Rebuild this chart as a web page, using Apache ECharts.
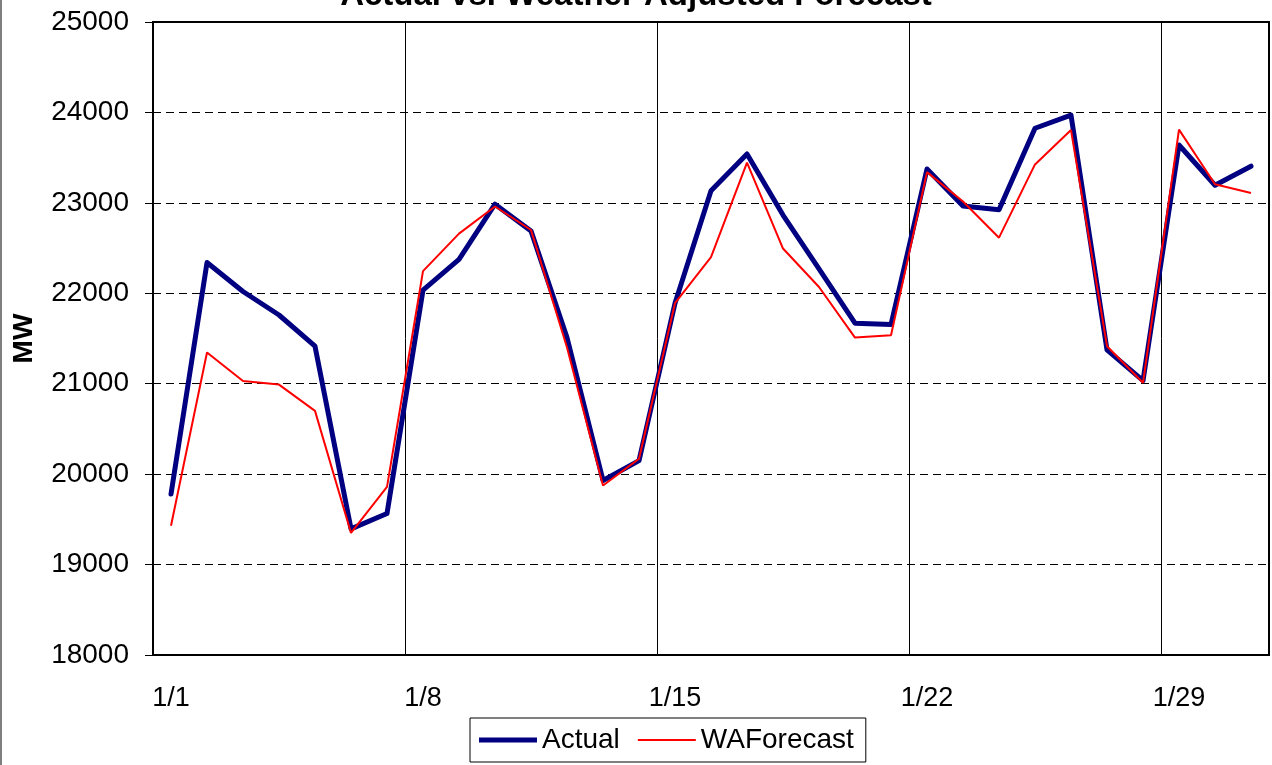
<!DOCTYPE html>
<html>
<head>
<meta charset="utf-8">
<title>Actual vs. Weather Adjusted Forecast</title>
<script src="https://cdn.jsdelivr.net/npm/echarts@6/dist/echarts.min.js"></script>
<style>
  html, body { margin: 0; padding: 0; background: #fff; }
  #chart { width: 1272px; height: 765px; }
  #edge { position: absolute; left: 0; top: 0; width: 2px; height: 765px; background: #7f7f7f; }
</style>
</head>
<body>
<div id="chart"></div>
<div id="edge"></div>
<script>
// days of January, one category per day
const days = ['1/1', '1/2', '1/3', '1/4', '1/5', '1/6', '1/7', '1/8', '1/9', '1/10',
  '1/11', '1/12', '1/13', '1/14', '1/15', '1/16', '1/17', '1/18', '1/19', '1/20',
  '1/21', '1/22', '1/23', '1/24', '1/25', '1/26', '1/27', '1/28', '1/29', '1/30', '1/31']

// MW
const actual = [19780, 22340, 22020, 21760, 21415, 19395, 19565, 22035, 22375, 22985,
  22690, 21510, 19930, 20150, 21890, 23135, 23540, 22865, 22270, 21670,
  21655, 23375, 22965, 22925, 23825, 23970, 21375, 21035, 23640, 23195, 23405]

const waForecast = [19430, 21345, 21030, 20990, 20700, 19350, 19860, 22245, 22660, 22960,
  22700, 21400, 19875, 20170, 21890, 22400, 23445, 22495, 22070, 21510,
  21535, 23340, 23015, 22615, 23425, 23805, 21415, 21010, 23810, 23205, 23110]

const font = "'Liberation Sans', Arial, sans-serif"

let myChart = echarts.init(document.getElementById('chart'))
let option = {
  backgroundColor: '#fff',
  animation: false,
  textStyle: { fontFamily: font, color: '#000' },
  title: {
    text: 'Actual vs. Weather Adjusted Forecast',
    left: 'center',
    top: -26,
    textStyle: { fontFamily: font, fontSize: 33, fontWeight: 'bold', color: '#000' },
  },
  legend: {
    left: 470,
    top: 718,
    padding: [8, 12, 8, 9],
    itemGap: 18,
    itemWidth: 58,
    itemHeight: 14,
    borderColor: '#000',
    borderWidth: 1,
    textStyle: { fontFamily: font, fontSize: 28, color: '#000' },
    // plain line samples: thick navy, thin red
    data: [
      { name: 'Actual', icon: 'path://M0,0L58,0L58,5L0,5Z' },
      { name: 'WAForecast', icon: 'path://M0,0L58,0L58,2L0,2Z' },
    ],
  },
  grid: {
    left: 153,
    right: 3,
    top: 22,
    bottom: 110,
    show: true,
    borderColor: '#000',
    borderWidth: 2,
    backgroundColor: '#fff',
  },
  xAxis: {
    type: 'category',
    data: days,
    boundaryGap: true,
    axisLine: { lineStyle: { color: '#000', width: 2 } },
    axisTick: { interval: 6, length: 8, lineStyle: { color: '#000' } },
    axisLabel: { interval: 6, margin: 30, fontSize: 27, color: '#000', fontFamily: font },
    splitLine: { show: true, interval: 6, lineStyle: { color: '#000', width: 1 } },
  },
  yAxis: {
    type: 'value',
    min: 18000,
    max: 25000,
    interval: 1000,
    name: 'MW',
    nameLocation: 'middle',
    nameRotate: 90,
    nameGap: 115,
    nameTextStyle: { fontFamily: font, fontSize: 28, fontWeight: 'bold', color: '#000' },
    axisLine: { show: true, lineStyle: { color: '#000', width: 2 } },
    axisTick: { show: true, length: 8, lineStyle: { color: '#000' } },
    axisLabel: {
      margin: 24, fontSize: 28, color: '#000', fontFamily: font,
      formatter: v => String(v),
    },
    splitLine: { show: true, lineStyle: { color: '#000', width: 1, type: [8, 5] } },
  },
  series: [
    {
      name: 'Actual',
      type: 'line',
      data: actual,
      symbol: 'none',
      lineStyle: { color: '#000080', width: 5, cap: 'round', join: 'round' },
      itemStyle: { color: '#000080' },
    },
    {
      name: 'WAForecast',
      type: 'line',
      data: waForecast,
      symbol: 'none',
      lineStyle: { color: '#ff0000', width: 2 },
      itemStyle: { color: '#ff0000' },
    },
  ],
}
myChart.setOption(option)
</script>
</body>
</html>
